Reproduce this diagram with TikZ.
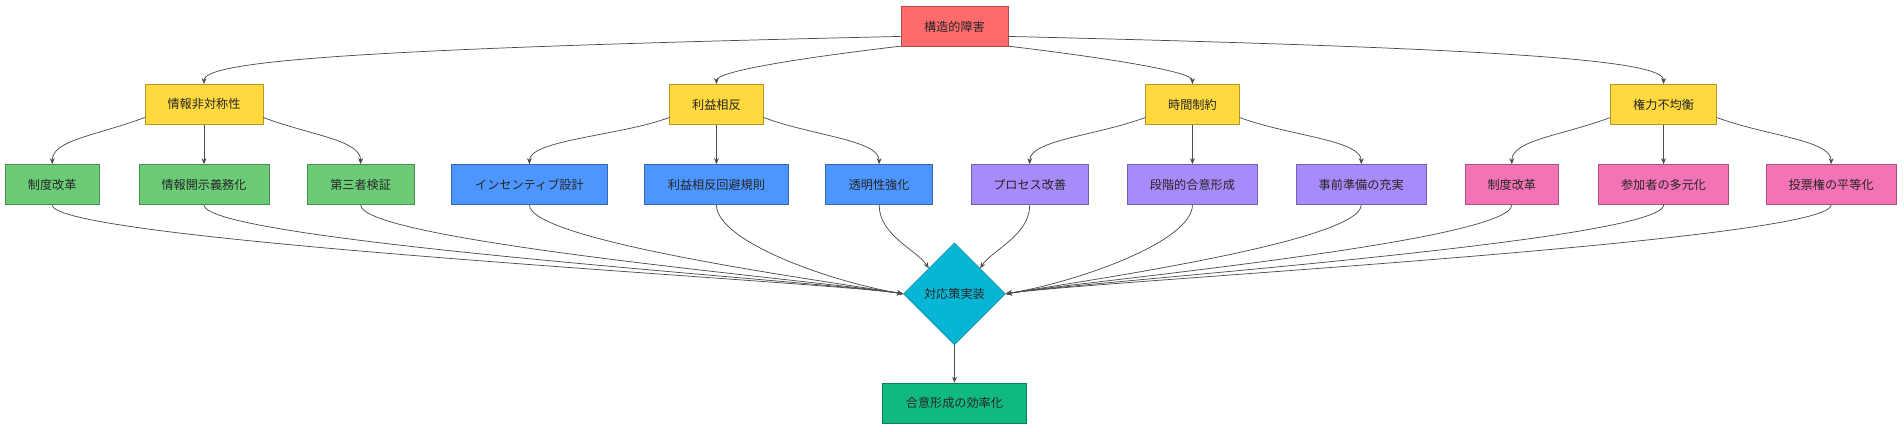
\documentclass[tikz,border=0pt]{standalone}
\usepackage{fontspec}
\setmainfont{Noto Sans CJK JP}
\usetikzlibrary{shapes.geometric,arrows.meta}
\definecolor{cred}{HTML}{FF6B6B}
\definecolor{cyel}{HTML}{FFD93D}
\definecolor{cgrn}{HTML}{6BCB77}
\definecolor{cblu}{HTML}{4D96FF}
\definecolor{cpur}{HTML}{A78BFA}
\definecolor{cpnk}{HTML}{F472B6}
\definecolor{ccya}{HTML}{06B6D4}
\definecolor{cemr}{HTML}{10B981}
\begin{document}
\begin{tikzpicture}[x=1pt,y=-1pt,
  box/.style={draw=#1!70!black,fill=#1,line width=0.5pt,minimum height=33pt,inner xsep=0pt,font=\fontsize{10}{12}\selectfont,text=black!85},
  arr/.style={-{Stealth[length=5pt,width=4pt]},draw=black!70,line width=0.6pt}]
\useasboundingbox (0,0) rectangle (1568,355);
\node[box=cred,minimum width=88pt] (r) at (786,22) {構造的障害};
\node[box=cyel,minimum width=97pt] (a) at (168,86) {情報非対称性};
\node[box=cyel,minimum width=77pt] (b) at (590,86) {利益相反};
\node[box=cyel,minimum width=77pt] (c) at (982,86) {時間制約};
\node[box=cyel,minimum width=87pt] (d) at (1370,86) {権力不均衡};
\node[box=cgrn,minimum width=77pt] (a1) at (43,152) {制度改革};
\node[box=cgrn,minimum width=107pt] (a2) at (168,152) {情報開示義務化};
\node[box=cgrn,minimum width=88pt] (a3) at (297,152) {第三者検証};
\node[box=cblu,minimum width=128pt] (b1) at (436,152) {インセンティブ設計};
\node[box=cblu,minimum width=118pt] (b2) at (590,152) {利益相反回避規則};
\node[box=cblu,minimum width=88pt] (b3) at (724,152) {透明性強化};
\node[box=cpur,minimum width=97pt] (c1) at (848,152) {プロセス改善};
\node[box=cpur,minimum width=107pt] (c2) at (982,152) {段階的合意形成};
\node[box=cpur,minimum width=107pt] (c3) at (1121,152) {事前準備の充実};
\node[box=cpnk,minimum width=77pt] (d1) at (1245,152) {制度改革};
\node[box=cpnk,minimum width=107pt] (d2) at (1370,152) {参加者の多元化};
\node[box=cpnk,minimum width=107pt] (d3) at (1508,152) {投票権の平等化};
\node[diamond,draw=ccya!70!black,fill=ccya,minimum width=84pt,minimum height=84pt,inner sep=0pt,font=\fontsize{10}{12}\selectfont,text=black!85] (m) at (786,242) {対応策実装};
\node[box=cemr,minimum width=118pt] (z) at (786,332) {合意形成の効率化};
\draw[arr] (r.west) ++(0,8) coordinate (r1) (r1) .. controls (300,40) and (168,50) .. (a.north);
\draw[arr] (r.west) ++(0,16) coordinate (r2) (r2) .. controls (640,50) and (590,60) .. (b.north);
\draw[arr] (r.east) ++(0,16) coordinate (r3) (r3) .. controls (930,50) and (982,60) .. (c.north);
\draw[arr] (r.east) ++(0,8) coordinate (r4) (r4) .. controls (1250,40) and (1370,50) .. (d.north);
\foreach \p/\q in {a/a1,b/b1,c/c1,d/d1}{\draw[arr] (\p.south west) ++(0,-6) .. controls +(-40,15) and +(0,-20) .. (\q.north);}
\foreach \p/\q in {a/a3,b/b3,c/c3,d/d3}{\draw[arr] (\p.south east) ++(0,-6) .. controls +(40,15) and +(0,-20) .. (\q.north);}
\foreach \p/\q in {a/a2,b/b2,c/c2,d/d2}{\draw[arr] (\p) -- (\q);}
\foreach \q in {a1,a2,a3,b1,b2}{\draw[arr] (\q.south) .. controls +(0,30) and +(-60,-10) .. (m.west);}
\draw[arr] (b3.south) .. controls +(0,25) and +(-10,-15) .. (m.north west);
\draw[arr] (c1.south) .. controls +(0,25) and +(10,-15) .. (m.north east);
\foreach \q in {c2,c3,d1,d2,d3}{\draw[arr] (\q.south) .. controls +(0,30) and +(60,-10) .. (m.east);}
\draw[arr] (m) -- (z);
\end{tikzpicture}
\end{document}
